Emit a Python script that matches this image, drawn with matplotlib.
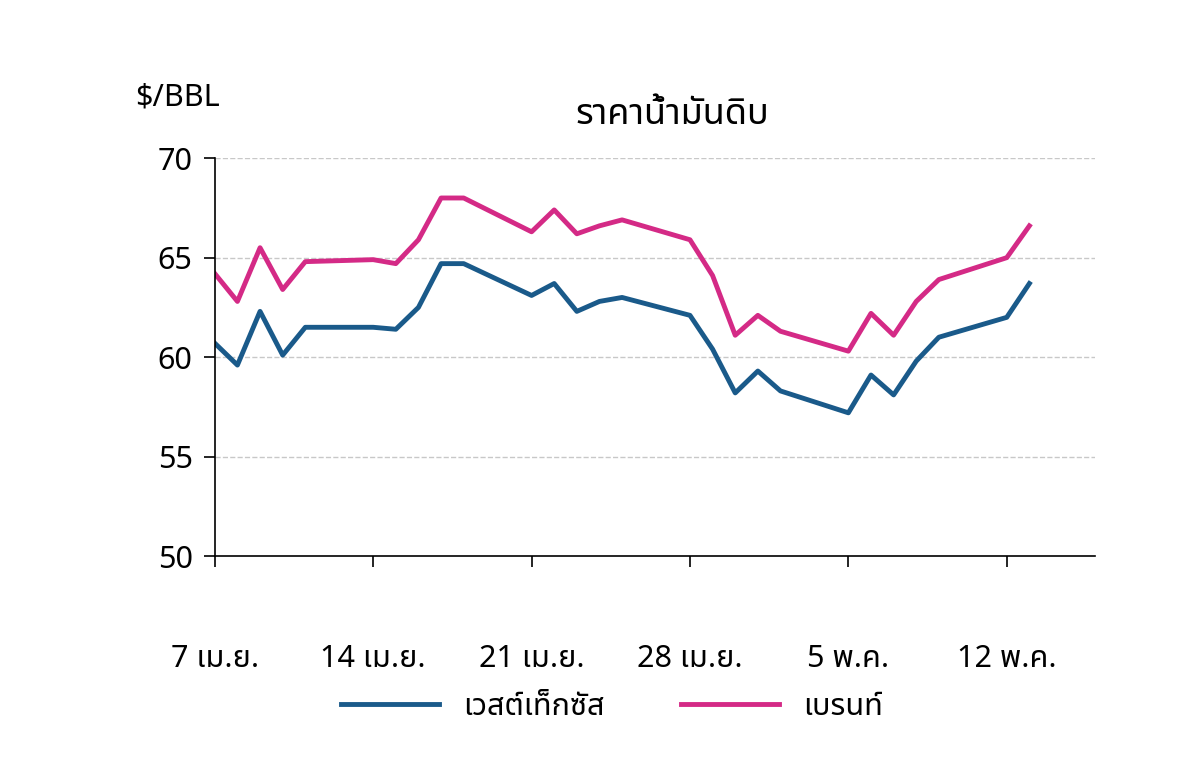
import matplotlib
matplotlib.use("Agg")
import matplotlib.pyplot as plt
from matplotlib import font_manager as fm

names = {f.name for f in fm.fontManager.ttflist}
cands = ['Noto Sans Thai', 'Noto Sans Thai UI', 'Noto Looped Thai', 'Loma', 'Garuda', 'Norasi', 'Tlwg Typo', 'Waree', 'Sarabun', 'Kinnari']
fam = [c for c in cands if c in names] + ['Liberation Sans', 'DejaVu Sans']
plt.rcParams['font.family'] = fam

days = [0, 1, 2, 3, 4, 7, 8, 9, 10, 11, 14, 15, 16, 17, 18, 21, 22, 23, 24, 25, 28, 29, 30, 31, 32, 35, 36]
wti = [60.7, 59.6, 62.3, 60.1, 61.5, 61.5, 61.4, 62.5, 64.7, 64.7, 63.1, 63.7, 62.3, 62.8, 63.0, 62.1, 60.4, 58.2, 59.3, 58.3, 57.2, 59.1, 58.1, 59.8, 61.0, 62.0, 63.7]
brent = [64.2, 62.8, 65.5, 63.4, 64.8, 64.9, 64.7, 65.9, 68.0, 68.0, 66.3, 67.4, 66.2, 66.6, 66.9, 65.9, 64.1, 61.1, 62.1, 61.3, 60.3, 62.2, 61.1, 62.8, 63.9, 65.0, 66.6]
tick_days = [0, 7, 14, 21, 28, 35]
tick_labels = ['7 เม.ย.', '14 เม.ย.', '21 เม.ย.', '28 เม.ย.', '5 พ.ค.', '12 พ.ค.']
yticks = [50, 55, 60, 65, 70]

fig = plt.figure(figsize=(12, 7.68), dpi=100)
ax = fig.add_axes([0.179, 0.276, 0.7335, 0.518])
ax.plot(days, wti, color='#1a5a8a', lw=3.5, label='เวสต์เท็กซัส')
ax.plot(days, brent, color='#d42a86', lw=3.5, label='เบรนท์')
ax.set_xlim(0, 38.9)
ax.set_ylim(50, 70)
ax.set_yticks(yticks)
ax.set_xticks(tick_days)
ax.set_xticklabels(tick_labels, fontsize=22, fontweight='bold')
ax.tick_params(axis='x', length=8, width=1.2, direction='out', pad=55)
ax.tick_params(axis='y', length=8, width=1.2, direction='out', labelsize=22, pad=8)
for t in ax.get_yticklabels():
    t.set_fontweight('bold')
for y in yticks[1:]:
    ax.axhline(y, color='#c8c8c8', ls='--', lw=1, zorder=0)
for s in ['top', 'right']:
    ax.spines[s].set_visible(False)
ax.spines['left'].set_linewidth(1.2)
ax.spines['bottom'].set_linewidth(1.2)
fig.text(0.113, 0.873, '$/BBL', fontsize=22, fontweight='bold', va='center')
fig.text(0.56, 0.85, 'ราคาน้ำมันดิบ', fontsize=26, fontweight='bold', ha='center', va='center')
leg = fig.legend(loc='center', bbox_to_anchor=(0.51, 0.08), ncol=2, frameon=False,
                 fontsize=22, handlelength=3.2, columnspacing=2.5)
fig.savefig('out.png', dpi=100)
